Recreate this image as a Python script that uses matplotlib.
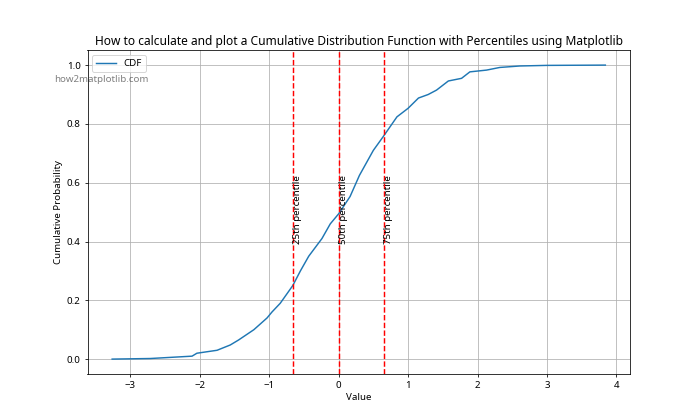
import matplotlib
matplotlib.use('Agg')
from matplotlib import pyplot as plt

plt.rcParams['font.family'] = ['Noto Sans', 'DejaVu Sans']

# sorted sample values and their cumulative probability
values = [-3.26, -2.71, -2.11, -2.04, -1.75, -1.56, -1.44, -1.22, -1.03, -0.96,
          -0.84, -0.72, -0.66, -0.55, -0.43, -0.24, -0.12, 0.0, 0.165, 0.30,
          0.50, 0.64, 0.84, 1.0, 1.15, 1.29, 1.41, 1.58, 1.77,
          1.89, 2.13, 2.32, 2.61, 2.99, 3.84]
cum_prob = [0.0, 0.002, 0.01, 0.02, 0.03, 0.048, 0.065, 0.10, 0.14, 0.16,
            0.19, 0.23, 0.25, 0.30, 0.35, 0.41, 0.46, 0.494, 0.553, 0.625,
            0.71, 0.756, 0.824, 0.853, 0.888, 0.90, 0.915, 0.946, 0.955,
            0.977, 0.983, 0.992, 0.997, 0.999, 1.0]

pct_names = ['25th', '50th', '75th']
pct_values = [-0.66, 0.01, 0.65]

fig = plt.figure(figsize=(10, 6))
ax = plt.subplot(111)
ax.plot(values, cum_prob, label='CDF')

for name, p in zip(pct_names, pct_values):
    ax.axvline(p, color='r', linestyle='--')
    ax.text(p, 0.4, name + ' percentile', rotation=90)

ax.set_title('How to calculate and plot a Cumulative Distribution Function with Percentiles using Matplotlib',
             fontsize=12.3)
ax.set_xlabel('Value')
ax.set_ylabel('Cumulative Probability')
ax.legend(loc='upper left')
ax.grid(True)
ax.text(0.025, 0.91, 'how2matplotlib.com', transform=ax.transAxes,
        ha='center', va='center', fontsize=10, alpha=0.5)

fig.savefig('out.png', dpi=70)
